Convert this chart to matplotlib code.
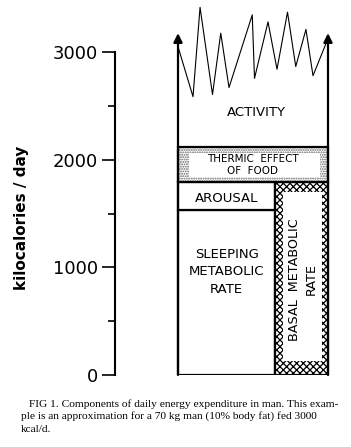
import matplotlib.pyplot as plt
from matplotlib.patches import Rectangle

# energy components, kcal/day
smr_top = 1530        # sleeping metabolic rate
arousal_top = 1790    # + arousal
bmr_top = 1790        # basal metabolic rate column
tef_top = 2120        # + thermic effect of food
arrow_top = 3175      # open-ended activity

# activity zigzag along the top of the stack
zig_x = [0.0, 0.10, 0.147, 0.23, 0.285, 0.34, 0.495, 0.51, 0.60, 0.66,
         0.73, 0.785, 0.853, 0.90, 1.0]
zig_y = [3050, 2585, 3415, 2605, 3175, 2670, 3345, 2755, 3280, 2840,
         3370, 2865, 3210, 2780, 3125]

yticks = [0, 1000, 2000, 3000]
yticks_minor = [500, 1500, 2500]

bmr_x = 0.647

plt.rcParams['hatch.linewidth'] = 0.9

fig = plt.figure(figsize=(3.51, 4.47), dpi=100)
ax = fig.add_axes([115 / 351, 72 / 447, 225 / 351, 375 / 447])
ax.set_xlim(-0.42, 1.08)
ax.set_ylim(0, 3483)

lw = 1.6
# sleeping metabolic rate and arousal
ax.add_patch(Rectangle((0, 0), bmr_x, smr_top, facecolor='white', edgecolor='black', lw=lw))
ax.add_patch(Rectangle((0, smr_top), bmr_x, arousal_top - smr_top,
                       facecolor='white', edgecolor='black', lw=lw))

# basal metabolic rate column (cross-hatched frame)
ax.add_patch(Rectangle((bmr_x, 0), 1 - bmr_x, bmr_top, facecolor='white',
                       edgecolor='black', hatch='xxxxx', lw=0))
ax.add_patch(Rectangle((0.70, 130), 0.258, 1572, facecolor='white', lw=0))
ax.add_patch(Rectangle((bmr_x, 0), 1 - bmr_x, bmr_top, fill=False, edgecolor='black', lw=lw))

# thermic effect of food band (stippled frame)
ax.add_patch(Rectangle((0, arousal_top), 1, tef_top - arousal_top, facecolor='white',
                       edgecolor='0.4', hatch='.......', lw=0))
ax.add_patch(Rectangle((0.07, 1838), 0.875, 222, facecolor='white', lw=0))
ax.add_patch(Rectangle((0, arousal_top), 1, tef_top - arousal_top, fill=False,
                       edgecolor='black', lw=lw))

# side arrows
for xs in (0, 1):
    ax.annotate('', xy=(xs, arrow_top), xytext=(xs, 0),
                arrowprops=dict(arrowstyle='-|>', lw=lw, color='black',
                                mutation_scale=13, shrinkA=0, shrinkB=0))

ax.plot(zig_x, zig_y, color='black', lw=0.8)

font = 'DejaVu Sans'
ax.text(0.52, 2435, 'ACTIVITY', ha='center', va='center', fontsize=9.5, family=font)
ax.text(0.497, 1950, 'THERMIC  EFFECT\nOF  FOOD', ha='center', va='center',
        fontsize=7.5, family=font, linespacing=1.25)
ax.text(0.325, 1641, 'AROUSAL', ha='center', va='center', fontsize=9.5, family=font)
ax.text(0.325, 960, 'SLEEPING\nMETABOLIC\nRATE', ha='center', va='center',
        fontsize=9.5, family=font, linespacing=1.45)
ax.text(0.835, 890, 'BASAL  METABOLIC\nRATE', ha='center', va='center', rotation=90,
        fontsize=9.2, family=font, linespacing=1.35)

# axis styling
for s in ('top', 'right', 'bottom'):
    ax.spines[s].set_visible(False)
ax.spines['left'].set_bounds(0, 3000)
ax.spines['left'].set_linewidth(1.5)
ax.set_xticks([])
ax.set_yticks(yticks)
ax.set_yticks(yticks_minor, minor=True)
ax.set_yticklabels([str(v) for v in yticks], fontsize=13, family=font)
ax.tick_params(axis='y', which='major', length=9.5, width=1.2, pad=2.5)
ax.tick_params(axis='y', which='minor', length=4.8, width=1.2)

fig.text(22 / 351, 1 - 218 / 447, 'kilocalories / day', rotation=90, ha='center',
         va='center', fontsize=11, fontweight='bold', family=font)

cap = ['FIG 1. Components of daily energy expenditure in man. This exam-',
       'ple is an approximation for a 70 kg man (10% body fat) fed 3000',
       'kcal/d.']
cap_x = [29, 21, 21]
cap_y = [404, 416.5, 429]
for t, cx, cy in zip(cap, cap_x, cap_y):
    fig.text(cx / 351, 1 - cy / 447, t, ha='left', va='center', fontsize=8.2,
             family='Liberation Serif')

fig.savefig('out.png', dpi=100)
